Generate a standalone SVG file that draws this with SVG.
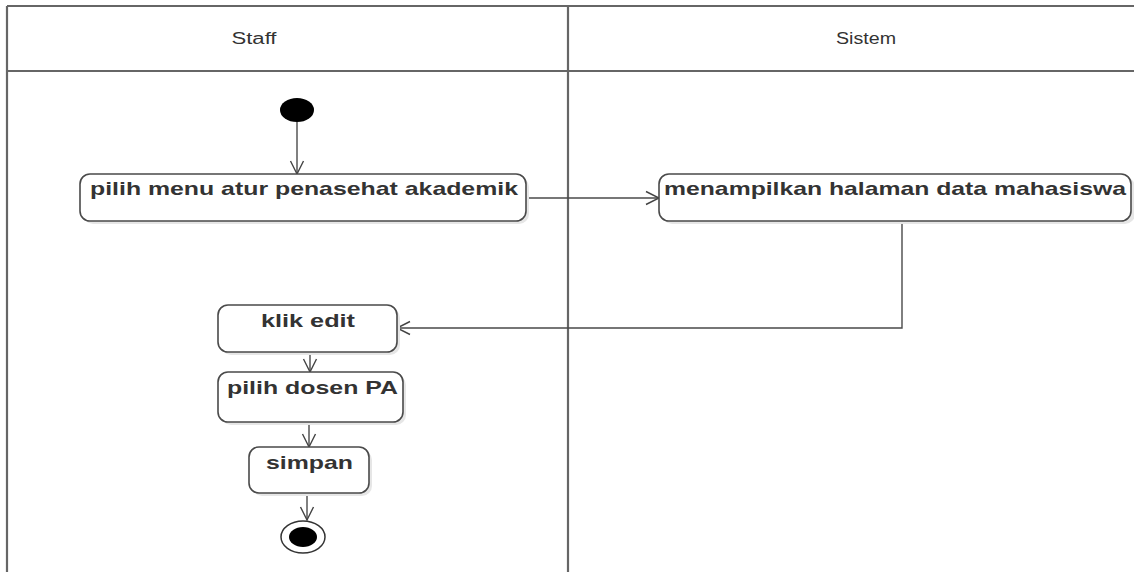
<svg xmlns="http://www.w3.org/2000/svg" width="1134" height="572" viewBox="0 0 1134 572">
<style>
.lane{stroke:#666;stroke-width:2.2;fill:none}
.hdr{font-family:"Liberation Sans",Arial,sans-serif;font-size:16px;fill:#333}
.box{fill:#fff;stroke:#4a4a4a;stroke-width:1.6}
.shadow{fill:#e6e6e6}
.lbl{font-family:"Liberation Sans",Arial,sans-serif;font-size:19px;font-weight:bold;fill:#333}
.conn{stroke:#4a4a4a;stroke-width:1.4;fill:none}
</style>
<defs>
<marker id="arr" markerUnits="userSpaceOnUse" markerWidth="16" markerHeight="16" viewBox="0 0 16 16" refX="14" refY="8" orient="auto">
<path d="M1,1.5 L14,8 L1,14.5" fill="none" stroke="#444" stroke-width="1.4"/>
</marker>
</defs>
<rect width="1134" height="572" fill="#fff"/>
<g id="lanes">
<line class="lane" x1="7" y1="6" x2="1134" y2="6"/>
<line class="lane" x1="7" y1="71" x2="1134" y2="71"/>
<line class="lane" x1="7" y1="6" x2="7" y2="572"/>
<line class="lane" x1="568" y1="6" x2="568" y2="572"/>
<text class="hdr" x="254" y="44" text-anchor="middle" textLength="45" lengthAdjust="spacingAndGlyphs">Staff</text>
<text class="hdr" x="866" y="44" text-anchor="middle" textLength="60" lengthAdjust="spacingAndGlyphs">Sistem</text>
</g>
<g id="connectors">
<line class="conn" x1="297" y1="122" x2="297" y2="174" marker-end="url(#arr)"/>
<line class="conn" x1="526" y1="198" x2="659" y2="198" marker-end="url(#arr)"/>
<polyline class="conn" points="902,221 902,328 397,328" marker-end="url(#arr)"/>
<line class="conn" x1="310" y1="352" x2="310" y2="372" marker-end="url(#arr)"/>
<line class="conn" x1="309" y1="422" x2="309" y2="447" marker-end="url(#arr)"/>
<line class="conn" x1="307" y1="493" x2="307" y2="520" marker-end="url(#arr)"/>
</g>
<g id="start">
<ellipse cx="297" cy="110" rx="17" ry="12" fill="#000"/>
</g>
<g id="n1">
<rect class="shadow" x="83" y="177" width="446" height="47" rx="10"/>
<rect class="box" x="80" y="174" width="446" height="47" rx="10"/>
<text class="lbl" x="90" y="195" textLength="428" lengthAdjust="spacingAndGlyphs">pilih menu atur penasehat akademik</text>
</g>
<g id="n2">
<rect class="shadow" x="662" y="177" width="473" height="47" rx="10"/>
<rect class="box" x="659" y="174" width="472" height="47" rx="10"/>
<text class="lbl" x="664" y="195" textLength="462" lengthAdjust="spacingAndGlyphs">menampilkan halaman data mahasiswa</text>
</g>
<g id="n3">
<rect class="shadow" x="221" y="308" width="179" height="47" rx="10"/>
<rect class="box" x="218" y="305" width="179" height="47" rx="10"/>
<text class="lbl" x="261" y="327" textLength="94" lengthAdjust="spacingAndGlyphs">klik edit</text>
</g>
<g id="n4">
<rect class="shadow" x="221" y="375" width="185" height="50" rx="10"/>
<rect class="box" x="218" y="372" width="185" height="50" rx="10"/>
<text class="lbl" x="227" y="394" textLength="171" lengthAdjust="spacingAndGlyphs">pilih dosen PA</text>
</g>
<g id="n5">
<rect class="shadow" x="252" y="450" width="120" height="46" rx="10"/>
<rect class="box" x="249" y="447" width="120" height="46" rx="10"/>
<text class="lbl" x="266" y="469" textLength="87" lengthAdjust="spacingAndGlyphs">simpan</text>
</g>
<g id="end">
<ellipse cx="303" cy="537" rx="22" ry="16" fill="#fff" stroke="#333" stroke-width="1.5"/>
<ellipse cx="303" cy="537" rx="14" ry="10" fill="#000"/>
</g>
</svg>
